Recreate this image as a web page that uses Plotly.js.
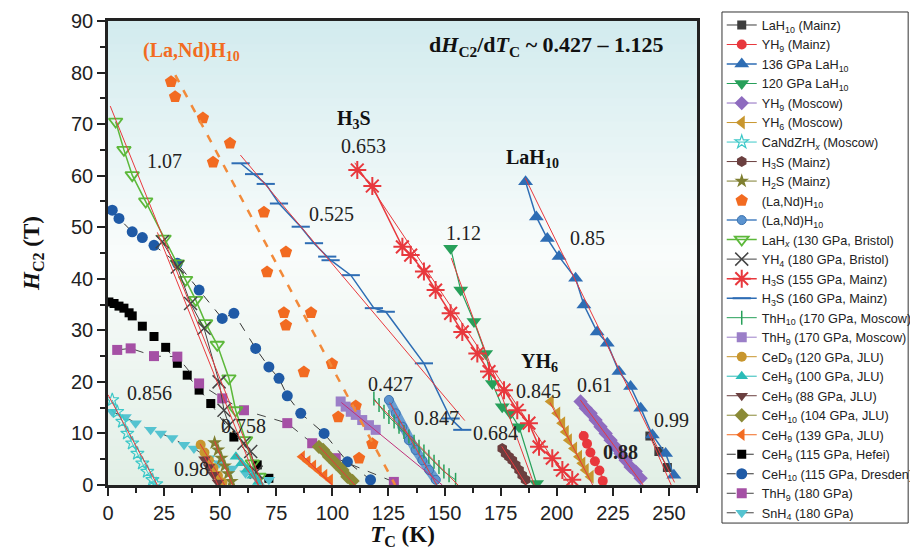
<!DOCTYPE html>
<html>
<head>
<meta charset="utf-8">
<script src="https://cdn.plot.ly/plotly-3.0.1.min.js"></script>
<style>html,body{margin:0;padding:0;background:#fff;}#chart{width:910px;height:550px;}</style>
</head>
<body>
<div id="chart"></div>
<script>
// ---------- data (T_C in K, H_C2 in T) ----------
const names = [
  "LaH<sub>10</sub> (Mainz)", "YH<sub>9</sub> (Mainz)", "136 GPa LaH<sub>10</sub>", "120 GPa LaH<sub>10</sub>",
  "YH<sub>9</sub> (Moscow)", "YH<sub>6</sub> (Moscow)", "CaNdZrH<sub><i>x</i></sub> (Moscow)", "H<sub>3</sub>S (Mainz)",
  "H<sub>2</sub>S (Mainz)", "(La,Nd)H<sub>10</sub>", "(La,Nd)H<sub>10</sub>", "LaH<sub><i>x</i></sub> (130 GPa, Bristol)",
  "YH<sub>4</sub> (180 GPa, Bristol)", "H<sub>3</sub>S (155 GPa, Mainz)", "H<sub>3</sub>S (160 GPa, Mainz)",
  "ThH<sub>10</sub> (170 GPa, Moscow)", "ThH<sub>9</sub> (170 GPa, Moscow)", "CeD<sub>9</sub> (120 GPa, JLU)",
  "CeH<sub>9</sub> (100 GPa, JLU)", "CeH<sub>9</sub> (88 GPa, JLU)", "CeH<sub>10</sub> (104 GPa, JLU)",
  "CeH<sub>9</sub> (139 GPa, JLU)", "CeH<sub>9</sub> (115 GPa, Hefei)", "CeH<sub>10</sub> (115 GPa, Dresden)",
  "ThH<sub>9</sub> (180 GPa)", "SnH<sub>4</sub> (180 GPa)"
];

const LaH10_Mainz_T = [241.5, 245.5, 249.3];
const LaH10_Mainz_H = [9.5, 6.5, 3.4];
const YH9_Mainz_T = [212, 213.5, 215, 217, 219, 220.5];
const YH9_Mainz_H = [9.5, 8, 6.3, 4.6, 2.8, 0.8];
const LaH10_136_T = [186.1, 190.9, 195.8, 201, 208.4, 212.1, 218, 222.5, 227.7, 232.9, 237.4, 242.6, 248.5, 252.2];
const LaH10_136_H = [58.8, 52, 47.8, 44.3, 40.1, 34.9, 29.7, 27.5, 22, 19.1, 14.9, 9.7, 6.1, 1.9];
const LaH10_120_T = [152.7, 157.2, 163.1, 168.3, 171.3, 175.7, 179.4, 183.2, 191];
const LaH10_120_H = [45.9, 37.8, 31.7, 25.5, 19.7, 15.2, 13.9, 11.3, 0.3];
const YH9_Moscow_T = [210.6, 212.9, 215.1, 217.3, 219.5, 221.8, 224, 226.2, 228.4, 230.7, 232.9, 235.2, 237.4];
const YH9_Moscow_H = [16.2, 14.9, 13.9, 12.6, 11.3, 10, 8.7, 7.4, 6.1, 4.8, 3.5, 2.6, 1.3];
const YH6_Moscow_T = [197.3, 200.2, 202.4, 204, 205.4, 207.7, 209.9, 211.4, 212.9, 215.1];
const YH6_Moscow_H = [16.2, 13.9, 12, 10.3, 8.7, 7.1, 5.5, 4.2, 2.9, 1.6];
const CaNdZrHx_T = [1.9, 4.1, 6.4, 8.6, 10.8, 13.1, 15.3, 17.5, 19.8, 21.5];
const CaNdZrHx_H = [16.5, 14.2, 12.3, 10, 8.1, 6.1, 4.2, 2.6, 1, 0.2];
const H3S_Mainz_T = [175.7, 177.2, 178.7, 180.2, 181.7, 183.2, 184.6, 186.1];
const H3S_Mainz_H = [7.1, 6.1, 5.5, 4.8, 3.9, 2.9, 1.9, 1.0];
const H2S_Mainz_T = [47.5, 49, 50.5, 52, 53.5, 55];
const H2S_Mainz_H = [8.2, 6.8, 5.2, 3.7, 2.2, 0.7];
const LaNdH10_a_T = [28.1, 29.9, 42.3, 54.4, 46.8, 69.5, 79.3, 70.9, 78.4, 79.3, 90.5, 87.3, 99.8, 102.6, 110.4, 117.8, 111.9];
const LaNdH10_a_H = [78.2, 75.3, 71.2, 66.3, 62.6, 52.9, 45.2, 41.3, 33.4, 31.0, 33.4, 21.9, 23.5, 13.2, 15.3, 8.0, 5.2];
const LaNdH10_dash_T = [30, 128];
const LaNdH10_dash_H = [79.5, 0];
const LaNdH10_b_T = [125.2, 128.2, 131.2, 134.1, 137.1, 140.1, 143.1, 146.1];
const LaNdH10_b_H = [16.5, 13.9, 11.3, 8.7, 6.8, 4.8, 2.9, 1.0];
const LaHx_Bristol_T = [3.4, 7.1, 10.8, 16.8, 25, 30.9, 34.6, 39.1, 43.5, 48.7, 53.9, 56.9, 61.3, 64.3, 67.3];
const LaHx_Bristol_H = [70.5, 65, 60.1, 55, 47.8, 43, 39.8, 35.9, 31.4, 27.2, 20.7, 14.5, 8.7, 4.2, 1.6];
const YH4_Bristol_T = [24.2, 30.9, 36.8, 42.8, 49.5, 51.7, 53.9, 60.6, 63.6, 66];
const YH4_Bristol_H = [47.2, 42.3, 35.2, 30.4, 20, 14.5, 11.6, 8.1, 6.5, 2.5];
const H3S_155_T = [111.1, 117.8, 131.2, 134.9, 140.8, 146, 152.7, 157.9, 164.6, 169.8, 176.5, 182.4, 187.6, 192.1, 198, 202.5, 206.9];
const H3S_155_H = [61.1, 58, 46.2, 44.6, 41.4, 37.8, 33.3, 29.7, 25.5, 22, 18.4, 14.5, 12, 7.4, 5.2, 2.9, 1];
const H3S_160_T = [59.1, 65.1, 70.3, 76.2, 85.9, 91.8, 97.7, 99.2, 108.2, 118.5, 123.8, 140.8, 152.7, 157.9];
const H3S_160_H = [62.4, 60.3, 58.4, 54.6, 50.1, 46.9, 44.3, 43.6, 40.7, 34.3, 33.6, 23.6, 12.9, 10.7];
const ThH10_170_T = [118.5, 120.8, 123, 125.2, 127.5, 129.7, 131.9, 134.1, 136.4, 138.6, 140.8, 143, 145.3, 147.5, 149.7, 152, 154.9];
const ThH10_170_H = [16.8, 15.5, 14.2, 13.2, 12.3, 11.3, 10.3, 9.4, 8.4, 7.4, 6.5, 5.5, 4.5, 3.5, 2.6, 1.9, 1.0];
const ThH9_170_T = [103.7, 105.9, 108.2, 110.4, 113.3, 116.3, 119.3];
const ThH9_170_H = [16.2, 15.2, 14.2, 13.6, 12.6, 11.6, 10.7];
const CeD9_120_T = [41.3, 43, 45, 47, 49, 51];
const CeD9_120_H = [7.8, 6.3, 4.8, 3.3, 1.8, 0.5];
const CeH9_100_T = [57, 59.5, 62, 64.5, 67];
const CeH9_100_H = [5.5, 4.2, 3, 1.8, 0.6];
const CeH9_88_T = [43, 45, 47, 49];
const CeH9_88_H = [5, 3.5, 2, 0.5];
const CeH10_104_T = [94, 95.9, 98.5, 101.5, 104.5, 106.7, 109];
const CeH10_104_H = [7.4, 6.8, 5.5, 4.2, 2.9, 1.6, 0.8];
const CeH9_139_T = [86.5, 89, 91.5, 94, 96.5, 99];
const CeH9_139_H = [5.5, 4.6, 3.7, 2.8, 1.9, 1.0];
const CeH9_Hefei_T = [0.4, 2.7, 4.9, 7.1, 9.4, 10.8, 15.3, 20.5, 25.7, 30.9, 35.3, 40.6, 45.8, 56.1, 66.5, 71.7];
const CeH9_Hefei_H = [35.5, 35.2, 34.7, 34.3, 33.4, 32.8, 30.8, 28.8, 26.7, 23.6, 21.3, 18.4, 15.8, 9.3, 3.9, 1.3];
const CeH10_Dresden_T = [1.9, 4.9, 10.8, 15.3, 20.5, 30.9, 40.6, 50.9, 56.1, 65.8, 71.7, 76.2, 79.9, 85.9, 96.3, 106.7, 117];
const CeH10_Dresden_H = [53.3, 51.7, 49.1, 48, 46.5, 43, 37.8, 32.3, 33.3, 26.5, 22.9, 20.7, 17.3, 13.9, 10, 4.5, 1];
const ThH9_180_T = [4.1, 10.1, 20.5, 30.9, 40.6, 50.9, 60.6, 79.9, 91, 101.5, 127.4];
const ThH9_180_H = [26.2, 26.5, 25, 24.9, 19.7, 16.8, 14.5, 12, 8.1, 5.2, 0.6];
const SnH4_180_T = [1.9, 7.8, 12.3, 19, 23.5, 28.6, 33.9, 38.3, 45, 49.5, 55.4, 61.3, 65.8, 71.7];
const SnH4_180_H = [14.2, 13.2, 12, 10.7, 10, 9.1, 7.8, 7.1, 5.2, 4.2, 3.2, 2.3, 1.6, 1.0];

// linear fits: [T1, H1, T2, H2]
const fitLines = [
  [186, 59.5, 252.5, 0.5], [241, 10, 251, 0], [153, 44, 190, 0], [110, 62.5, 206, 0],
  [59, 64, 159, 12.5], [197, 16, 216, 0], [210.5, 16.5, 238.5, 0], [211, 10.5, 222, 0],
  [175.5, 7.5, 186.5, 0], [1, 73.5, 69, 0], [22, 49, 67, 0], [0, 17.5, 22, 0],
  [118.5, 16.5, 156, 0], [125.5, 16, 146.5, 0], [86, 6, 100, 0], [94, 7.5, 110, 0],
  [47.5, 8.5, 55.5, 0], [41, 8, 52, 0], [43, 5.5, 49, 0], [57, 6, 67, 0]
];
const fitThH9 = [104, 16, 149, 0];

// slope labels [text, T, H, bold]
const slopeLabels = [
  ["1.07", 25, 62.8, 0], ["0.653", 114, 65.7, 0], ["0.525", 99.4, 52.6, 0], ["1.12", 158.6, 48.9, 0],
  ["0.85", 213.9, 47.9, 0], ["0.856", 18.7, 17.8, 0], ["0.758", 60.6, 11.4, 0], ["0.98", 37.4, 3.1, 0],
  ["0.427", 126.1, 19.6, 0], ["0.847", 146.6, 13.0, 0], ["0.684", 172.5, 10.1, 0], ["0.845", 192, 18.2, 0],
  ["0.61", 216.6, 19.4, 0], ["0.88", 228.6, 6.4, 1], ["0.99", 251.3, 12.6, 0]
];
// compound labels [text, T, H, color]
const compoundLabels = [
  ["(La,Nd)H<sub>10</sub>", 37, 84, "#f26b21"], ["H<sub>3</sub>S", 109.6, 70.8, "#111"],
  ["LaH<sub>10</sub>", 189, 63.4, "#111"], ["YH<sub>6</sub>", 192.5, 23.7, "#111"],
  ["CeH<sub>10</sub>", -15.2, 54.3, "#1f5aa6"], ["CeH<sub>9</sub>", -12.9, 35.5, "#111"],
  ["ThH<sub>9</sub>", -13.8, 25, "#a550a5"], ["SnH<sub>4</sub>", -13.8, 14.5, "#4ec3cf"]
];

// ---------- traces ----------
const RED = "#e8383d";
const traces = [];
function series(i, T, H, opt) {
  traces.push({
    type: "scatter", x: T, y: H, name: names[i], legendgroup: "g" + i,
    legend: i < 13 ? "legend" : "legend2", legendrank: (i + 1) * 10,
    mode: opt.mode || "lines+markers",
    line: {color: opt.lc || opt.c, width: opt.lw || 1, dash: opt.dash || "solid"},
    marker: {symbol: opt.sym, color: opt.c, size: opt.size || 10,
             line: {color: opt.mlc || opt.c, width: opt.mlw == null ? 0 : opt.mlw}},
    hoverinfo: "x+y+name"
  });
}
function fit(f, color, w) {
  traces.push({type: "scatter", mode: "lines", x: [f[0], f[2]], y: [f[1], f[3]],
    line: {color: color, width: w || 1}, showlegend: false, hoverinfo: "skip"});
}

// thick band behind the second (La,Nd)H10 series
traces.push({type: "scatter", mode: "lines", x: LaNdH10_b_T, y: LaNdH10_b_H,
  line: {color: "rgba(91,147,207,0.9)", width: 9}, showlegend: false, hoverinfo: "skip"});

series(22, CeH9_Hefei_T, CeH9_Hefei_H, {c: "#000", lc: "#333", dash: "dash", sym: "square", size: 9});
series(23, CeH10_Dresden_T, CeH10_Dresden_H, {c: "#1f5aa6", lc: "#333", dash: "dash", sym: "circle", size: 11});
series(24, ThH9_180_T, ThH9_180_H, {c: "#a550a5", lc: "#444", dash: "dash", sym: "square", size: 10});
series(25, SnH4_180_T, SnH4_180_H, {c: "#55c3d0", lc: "#444", dash: "dash", sym: "triangle-down", size: 11});

series(0, LaH10_Mainz_T, LaH10_Mainz_H, {c: "#3d3d3d", sym: "square", size: 9});
series(1, YH9_Mainz_T, YH9_Mainz_H, {c: RED, sym: "circle", size: 10});
series(2, LaH10_136_T, LaH10_136_H, {c: "#2e6db4", sym: "triangle-up", size: 13, lw: 1.5});
series(3, LaH10_120_T, LaH10_120_H, {c: "#27a05a", sym: "triangle-down", size: 13, lw: 1.2});
series(4, YH9_Moscow_T, YH9_Moscow_H, {c: "#8e6bbf", sym: "diamond", size: 11});
series(5, YH6_Moscow_T, YH6_Moscow_H, {c: "#c8962e", sym: "triangle-left", size: 12});
series(6, CaNdZrHx_T, CaNdZrHx_H, {c: "#3cc8c8", sym: "star-open", size: 10, mlw: 1.2});
series(7, H3S_Mainz_T, H3S_Mainz_H, {c: "#6b3f3f", sym: "hexagon", size: 11});
series(8, H2S_Mainz_T, H2S_Mainz_H, {c: "#7f7f30", sym: "star", size: 11});
series(9, LaNdH10_a_T, LaNdH10_a_H, {c: "#f26b21", sym: "pentagon", size: 13, mode: "markers"});
series(10, LaNdH10_b_T, LaNdH10_b_H, {c: "#5b93cf", lc: "#4a82c0", lw: 1.5, sym: "circle", size: 9, mlc: "#3b73b0", mlw: 1});
series(11, LaHx_Bristol_T, LaHx_Bristol_H, {c: "#5cb83a", sym: "triangle-down-open", size: 12, mlw: 1.8, lw: 1.5});
series(12, YH4_Bristol_T, YH4_Bristol_H, {c: "#444", sym: "x-thin-open", size: 13, mlw: 1.5});
series(13, H3S_155_T, H3S_155_H, {c: RED, sym: "asterisk-open", size: 15, mlw: 2, lw: 1.5});
series(14, H3S_160_T, H3S_160_H, {c: "#2e6db4", sym: "line-ew-open", size: 13, mlw: 2, lw: 1.5});
series(15, ThH10_170_T, ThH10_170_H, {c: "#27a05a", sym: "line-ns-open", size: 10, mlw: 1.5});
series(16, ThH9_170_T, ThH9_170_H, {c: "#9b7fc8", sym: "square", size: 10});
series(17, CeD9_120_T, CeD9_120_H, {c: "#c8962e", sym: "circle", size: 10});
series(18, CeH9_100_T, CeH9_100_H, {c: "#2bbcb8", sym: "triangle-up", size: 11});
series(19, CeH9_88_T, CeH9_88_H, {c: "#6b3f3f", sym: "triangle-down", size: 11});
series(20, CeH10_104_T, CeH10_104_H, {c: "#8a8a36", sym: "diamond", size: 11});
series(21, CeH9_139_T, CeH9_139_H, {c: "#f26b21", sym: "triangle-left", size: 11});

// (La,Nd)H10 dashed guide
traces.push({type: "scatter", mode: "lines", x: LaNdH10_dash_T, y: LaNdH10_dash_H,
  line: {color: "#f28a3a", width: 2.5, dash: "8px,9px"}, showlegend: false, hoverinfo: "skip"});
fitLines.forEach(f => fit(f, RED, 1));
fit(fitThH9, "#c0307a", 1);

// ---------- background gradient ----------
const stops = [[0, [226, 239, 230]], [0.5, [249, 252, 251]], [1, [210, 235, 238]]];
function colAt(p) {
  for (let k = 0; k < stops.length - 1; k++) {
    const a = stops[k], b = stops[k + 1];
    if (p >= a[0] && p <= b[0]) {
      const f = (p - a[0]) / (b[0] - a[0]);
      const c = a[1].map((v, j) => Math.round(v + (b[1][j] - v) * f));
      return "rgb(" + c.join(",") + ")";
    }
  }
  return "rgb(255,255,255)";
}
const shapes = [];
const N = 60;
for (let k = 0; k < N; k++) {
  shapes.push({type: "rect", xref: "paper", yref: "paper", x0: 0, x1: 1, y0: k / N, y1: (k + 1) / N + 0.002,
    fillcolor: colAt((k + 0.5) / N), line: {width: 0}, layer: "below"});
}
// single frame around both legend columns
shapes.push({type: "rect", xref: "paper", yref: "paper", x0: 1.0424, x1: 1.3585, y0: -0.082, y1: 1.0194,
  line: {color: "#333", width: 1}, fillcolor: "rgba(0,0,0,0)", layer: "above"});

// ---------- annotations ----------
const annotations = [];
slopeLabels.forEach(s => annotations.push({
  x: s[1], y: s[2], xref: "x", yref: "y", text: s[3] ? "<b>" + s[0] + "</b>" : s[0], showarrow: false,
  font: {family: "Liberation Serif, Times New Roman, serif", size: 20, color: "#222"}
}));
compoundLabels.forEach(s => annotations.push({
  x: s[1], y: s[2], xref: "x", yref: "y", text: "<b>" + s[0] + "</b>", showarrow: false,
  font: {family: "Liberation Serif, Times New Roman, serif", size: 20, color: s[3]}
}));
annotations.push({
  x: 195.6, y: 85.1, xref: "x", yref: "y", showarrow: false,
  text: "<b>d<i>H</i><sub>C2</sub>/d<i>T</i><sub>C</sub> ~ 0.427 – 1.125</b>",
  font: {family: "Liberation Serif, Times New Roman, serif", size: 22, color: "#111"}
});

const legendFont = {family: "Liberation Sans, Arial, sans-serif", size: 12.7, color: "#222"};
const layout = {
  width: 910, height: 550,
  margin: {l: 108, r: 213, t: 21, b: 65, autoexpand: false},
  paper_bgcolor: "#fff", plot_bgcolor: "#fff",
  showlegend: true,
  legend: {x: 1.042, y: 1.0232, xanchor: "left", yanchor: "top", bgcolor: "rgba(0,0,0,0)",
    borderwidth: 0, tracegroupgap: 0, font: legendFont},
  legend2: {x: 1.042, y: 0.4765, xanchor: "left", yanchor: "top", bgcolor: "rgba(0,0,0,0)",
    borderwidth: 0, tracegroupgap: 0, font: legendFont},
  xaxis: {range: [0, 262.5], dtick: 25, tick0: 0, ticks: "outside", ticklen: 8, tickwidth: 2,
    tickcolor: "#222", showline: true, linecolor: "#222", linewidth: 2.5, mirror: true,
    showgrid: false, zeroline: false,
    minor: {dtick: 12.5, ticks: "outside", ticklen: 5, tickwidth: 1.5, tickcolor: "#222", showgrid: false},
    tickfont: {family: "Liberation Sans, Arial, sans-serif", size: 20, color: "#222"},
    title: {text: "<b><i>T</i><sub>C</sub> (K)</b>", standoff: 12,
      font: {family: "Liberation Serif, Times New Roman, serif", size: 23, color: "#111"}}},
  yaxis: {range: [0, 90], dtick: 10, tick0: 0, ticks: "outside", ticklen: 8, tickwidth: 2,
    tickcolor: "#222", showline: true, linecolor: "#222", linewidth: 2.5, mirror: true,
    showgrid: false, zeroline: false,
    minor: {dtick: 5, ticks: "outside", ticklen: 5, tickwidth: 1.5, tickcolor: "#222", showgrid: false},
    tickfont: {family: "Liberation Sans, Arial, sans-serif", size: 20, color: "#222"},
    title: {text: "<b><i>H</i><sub>C2</sub> (T)</b>", standoff: 25,
      font: {family: "Liberation Serif, Times New Roman, serif", size: 23, color: "#111"}}},
  shapes: shapes,
  annotations: annotations
};

Plotly.newPlot("chart", traces, layout, {displayModeBar: false, responsive: false});
</script>
</body>
</html>
